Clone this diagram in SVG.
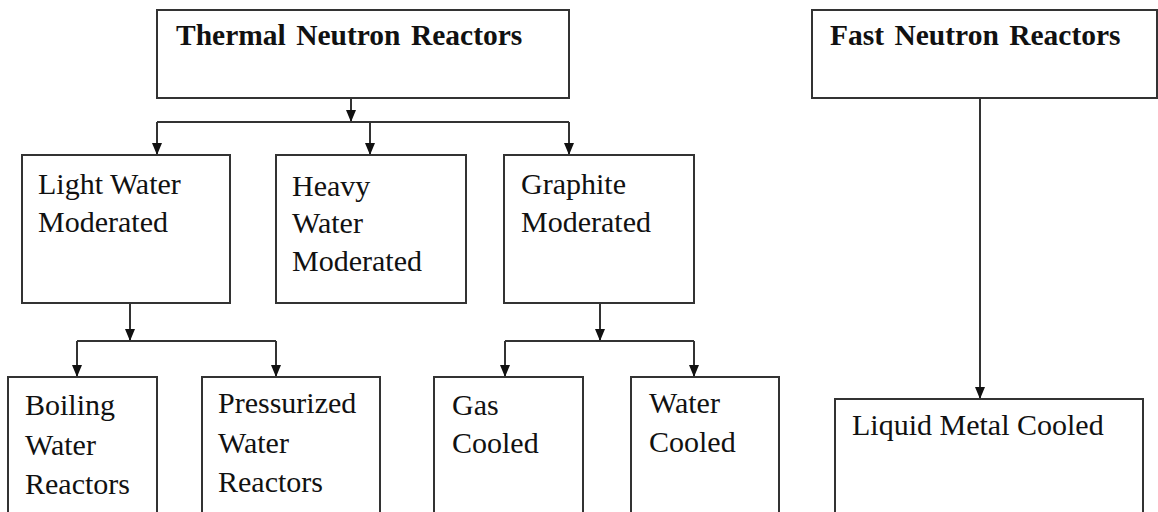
<svg xmlns="http://www.w3.org/2000/svg" width="1158" height="512" viewBox="0 0 1158 512">
<style>
.box{fill:#fff;stroke:#333;stroke-width:2}
.t{font-family:"Liberation Serif","Times New Roman",serif;font-size:30px;fill:#111}
.b{font-family:"Liberation Serif","Times New Roman",serif;font-size:29.5px;font-weight:bold;fill:#111}
.c{fill:none;stroke:#333;stroke-width:2}
</style>
<defs>
<marker id="ah" viewBox="0 0 12 10" markerWidth="12" markerHeight="10" refX="12" refY="5" orient="auto" markerUnits="userSpaceOnUse">
<path d="M0,0 L12,5 L0,10 z" fill="#111"/>
</marker>
</defs>
<rect width="1158" height="512" fill="#fff"/>
<g id="connectors">
<line class="c" x1="351" y1="98" x2="351" y2="122" marker-end="url(#ah)"/>
<line class="c" x1="157" y1="122" x2="569" y2="122"/>
<line class="c" x1="157" y1="122" x2="157" y2="155" marker-end="url(#ah)"/>
<line class="c" x1="370" y1="122" x2="370" y2="155" marker-end="url(#ah)"/>
<line class="c" x1="569" y1="122" x2="569" y2="155" marker-end="url(#ah)"/>
<line class="c" x1="130" y1="303" x2="130" y2="341" marker-end="url(#ah)"/>
<line class="c" x1="77" y1="341" x2="276" y2="341"/>
<line class="c" x1="77" y1="341" x2="77" y2="377" marker-end="url(#ah)"/>
<line class="c" x1="276" y1="341" x2="276" y2="377" marker-end="url(#ah)"/>
<line class="c" x1="600" y1="303" x2="600" y2="341" marker-end="url(#ah)"/>
<line class="c" x1="505" y1="341" x2="694" y2="341"/>
<line class="c" x1="505" y1="341" x2="505" y2="377" marker-end="url(#ah)"/>
<line class="c" x1="694" y1="341" x2="694" y2="377" marker-end="url(#ah)"/>
<line class="c" x1="980" y1="98" x2="980" y2="399" marker-end="url(#ah)"/>
</g>
<g id="thermal">
<rect class="box" x="157" y="10" width="412" height="88"/>
<text class="b" x="176" y="45" word-spacing="3">Thermal Neutron Reactors</text>
</g>
<g id="fast">
<rect class="box" x="812" y="10" width="345" height="88"/>
<text class="b" x="830" y="45" word-spacing="3">Fast Neutron Reactors</text>
</g>
<g id="light">
<rect class="box" x="22" y="155" width="208" height="148"/>
<text class="t" x="38" y="194">Light Water</text>
<text class="t" x="38" y="232">Moderated</text>
</g>
<g id="heavy">
<rect class="box" x="276" y="155" width="190" height="148"/>
<text class="t" x="292" y="196">Heavy</text>
<text class="t" x="292" y="233">Water</text>
<text class="t" x="292" y="271">Moderated</text>
</g>
<g id="graphite">
<rect class="box" x="504" y="155" width="190" height="148"/>
<text class="t" x="521" y="194">Graphite</text>
<text class="t" x="521" y="232">Moderated</text>
</g>
<g id="boiling">
<rect class="box" x="8" y="377" width="149" height="150"/>
<text class="t" x="25" y="415">Boiling</text>
<text class="t" x="25" y="455">Water</text>
<text class="t" x="25" y="494">Reactors</text>
</g>
<g id="pressurized">
<rect class="box" x="202" y="377" width="178" height="150"/>
<text class="t" x="218" y="413">Pressurized</text>
<text class="t" x="218" y="453">Water</text>
<text class="t" x="218" y="492">Reactors</text>
</g>
<g id="gas">
<rect class="box" x="434" y="377" width="149" height="150"/>
<text class="t" x="452" y="415">Gas</text>
<text class="t" x="452" y="453">Cooled</text>
</g>
<g id="watercooled">
<rect class="box" x="631" y="377" width="148" height="150"/>
<text class="t" x="649" y="413">Water</text>
<text class="t" x="649" y="452">Cooled</text>
</g>
<g id="liquid">
<rect class="box" x="835" y="399" width="308" height="130"/>
<text class="t" x="852" y="435">Liquid Metal Cooled</text>
</g>
</svg>
